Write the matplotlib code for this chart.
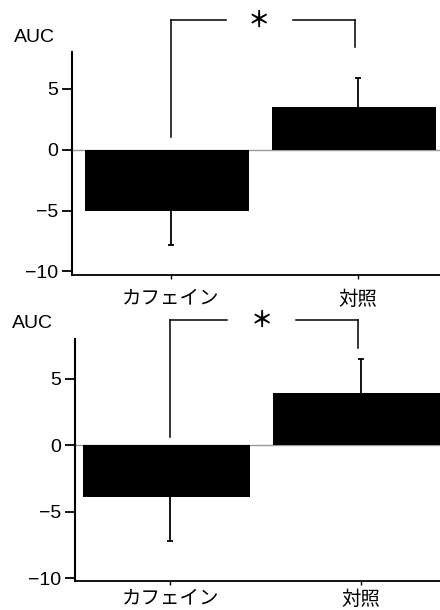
import matplotlib
matplotlib.use("Agg")
import matplotlib.pyplot as plt

plt.rcParams['font.family'] = ['Liberation Sans', 'Noto Sans CJK JP', 'DejaVu Sans']

groups = ['カフェイン', '対照']
auc_top = [-5.0, 3.5]
err_top = [2.85, 2.4]
auc_bottom = [-3.9, 3.9]
err_bottom = [3.3, 2.6]
yticks = [-10, -5, 0, 5]

fig = plt.figure(figsize=(4.4, 6.1), dpi=100)


def panel(rect, xlim, ylim, values, errs, bracket_y, legs, seg_gap, star_x, xpad):
    ax = fig.add_axes(rect)
    x = list(range(len(values)))
    xb = [xi - 0.02 for xi in x]  # bars sit slightly left of their ticks
    ax.axhline(0, color='#9a9a9a', lw=1.0, zorder=1)
    ax.bar(xb, values, width=0.88, color='black', zorder=2)
    # one-sided error bars, pointing away from zero
    for xi, v, e in zip(x, values, errs):
        tip = v - e if v < 0 else v + e
        ax.vlines(xi, v, tip, color='black', lw=1.3, zorder=3)
        ax.hlines(tip, xi - 0.017, xi + 0.017, color='black', lw=1.3, zorder=3)
    ax.set_xlim(*xlim)
    ax.set_ylim(*ylim)
    ax.set_yticks(yticks)
    ax.set_yticklabels([str(t).replace('-', '\u2212') for t in yticks])
    ax.set_xticks(x)
    ax.set_xticklabels(groups, fontsize=14)
    ax.tick_params(axis='y', length=7, width=1.3, pad=3, labelsize=14)
    ax.tick_params(axis='x', length=3, width=1.0, pad=xpad)
    for s in ('top', 'right'):
        ax.spines[s].set_visible(False)
    ax.spines['left'].set_linewidth(1.5)
    ax.spines['bottom'].set_linewidth(1.3)
    ax.spines['left'].set_bounds(ylim[0], 8)

    # significance bracket
    kw = dict(color='black', lw=1.1, clip_on=False)
    xr = x[1] - 0.016
    ax.plot([x[0], x[0]], [legs[0], bracket_y], **kw)
    ax.plot([xr, xr], [legs[1], bracket_y], **kw)
    ax.plot([x[0], seg_gap[0]], [bracket_y, bracket_y], **kw)
    ax.plot([seg_gap[1], xr], [bracket_y, bracket_y], **kw)
    ax.text(star_x, bracket_y, '\uff0a', ha='center', va='center',
            fontsize=16, fontweight='bold', family=['Noto Sans CJK JP'])
    return ax


panel([72 / 440, 1 - 275 / 610, 1 - 72 / 440, (275 - 52) / 610],
      (-0.53, 1.44), (-10.29, 8.0), auc_top, err_top,
      10.6, (1.0, 8.4), (0.294, 0.652), 0.47, 8)
fig.text(34 / 440, 1 - 37 / 610, 'AUC', ha='center', va='center', fontsize=14)

panel([75 / 440, 1 - 581 / 610, 1 - 75 / 440, (581 - 339) / 610],
      (-0.5, 1.416), (-10.22, 8.0), auc_bottom, err_bottom,
      9.43, (0.6, 7.3), (0.3, 0.658), 0.48, 4)
fig.text(32 / 440, 1 - 324 / 610, 'AUC', ha='center', va='center', fontsize=14)

fig.savefig('out.png', dpi=100)
